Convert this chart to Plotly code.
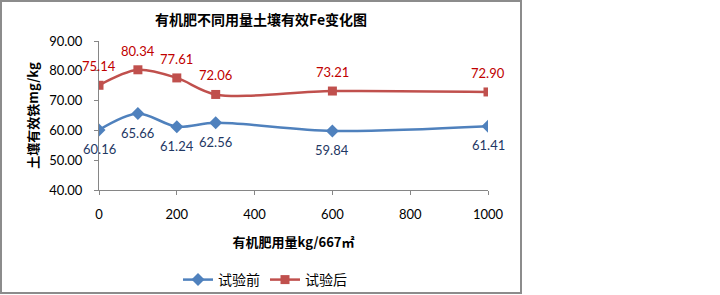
import plotly.graph_objects as go

doses = [0, 100, 200, 300, 600, 1000]
before = [60.16, 65.66, 61.24, 62.56, 59.84, 61.41]
after = [75.14, 80.34, 77.61, 72.06, 73.21, 72.90]
x_ticks = [0, 200, 400, 600, 800, 1000]
y_ticks = [40, 50, 60, 70, 80, 90]

FONT = "Lato, 'Noto Sans CJK SC', sans-serif"
CJK = "'Noto Sans CJK SC', Lato, sans-serif"

W, H = 720, 295
L, R, T, B = 99, 488, 41, 190  # plot area pixel bounds

fig = go.Figure()
fig.add_trace(go.Scatter(
    x=doses, y=before, name="试验前", mode="lines+markers",
    line=dict(color="#4F81BD", width=2.5, shape="spline", smoothing=0.9),
    marker=dict(symbol="diamond", size=10, color="#4F81BD"),
))
fig.add_trace(go.Scatter(
    x=doses, y=after, name="试验后", mode="lines+markers",
    line=dict(color="#C0504D", width=2.5, shape="spline", smoothing=0.9),
    marker=dict(symbol="square", size=9, color="#C0504D"),
))

annotations = []
for xv, yv in zip(doses, after):
    annotations.append(dict(x=xv, y=yv, xref="x", yref="y", text=f"{yv:.2f}",
                            showarrow=False, yshift=19,
                            font=dict(family=FONT, size=13, color="#C00000")))
for xv, yv in zip(doses, before):
    annotations.append(dict(x=xv, y=yv, xref="x", yref="y", text=f"{yv:.2f}",
                            showarrow=False, yshift=-19,
                            font=dict(family=FONT, size=13, color="#1F3864")))

pw, ph = R - L, B - T
def px2x(p):
    return (p - L) / pw
def px2y(p):
    return (B - p) / ph

annotations.append(dict(x=px2x(261), y=px2y(19), xref="paper", yref="paper",
                        text="<b>有机肥不同用量土壤有效Fe变化图</b>", showarrow=False,
                        xanchor="center", yanchor="middle",
                        font=dict(family=CJK, size=14, color="#000000")))

fig.update_layout(
    width=W, height=H,
    margin=dict(l=L, r=W - R, t=T, b=H - B, pad=0, autoexpand=False),
    paper_bgcolor="white", plot_bgcolor="white",
    showlegend=True,
    legend=dict(orientation="h", x=px2x(178), y=px2y(280), xanchor="left", yanchor="middle",
                font=dict(family=CJK, size=14, color="#000000"),
                bgcolor="rgba(0,0,0,0)", itemwidth=30),
    annotations=annotations,
    shapes=[dict(type="rect", xref="paper", yref="paper",
                 x0=px2x(1), x1=px2x(521), y0=px2y(293), y1=px2y(1),
                 line=dict(color="#8C8C8C", width=2), fillcolor="rgba(0,0,0,0)", layer="below")],
)
fig.update_xaxes(
    automargin=False,
    range=[0, 1000], tickvals=x_ticks, ticktext=[str(v) for v in x_ticks],
    showgrid=False, zeroline=False, showline=True, linecolor="#868686", linewidth=1,
    ticks="outside", ticklen=4, tickcolor="#868686", ticklabelstandoff=8,
    tickfont=dict(family=FONT, size=13, color="#000000"),
    title=dict(text="<b>有机肥用量kg/667㎡</b>", font=dict(family=CJK, size=13, color="#000000"), standoff=17),
)
fig.update_yaxes(
    automargin=False,
    range=[40, 90], tickvals=y_ticks, ticktext=[f"{v:.2f}" for v in y_ticks],
    showgrid=False, zeroline=False, showline=True, linecolor="#868686", linewidth=1,
    ticks="outside", ticklen=4, tickcolor="#868686", ticklabelstandoff=9,
    tickfont=dict(family=FONT, size=13, color="#000000"),
    title=dict(text="<b>土壤有效铁mg/kg</b>", font=dict(family=CJK, size=13, color="#000000"), standoff=7),
)

fig.write_html("out.html", config={"displayModeBar": False},
               post_script="document.body.style.margin='0';document.body.style.overflow='hidden';")
